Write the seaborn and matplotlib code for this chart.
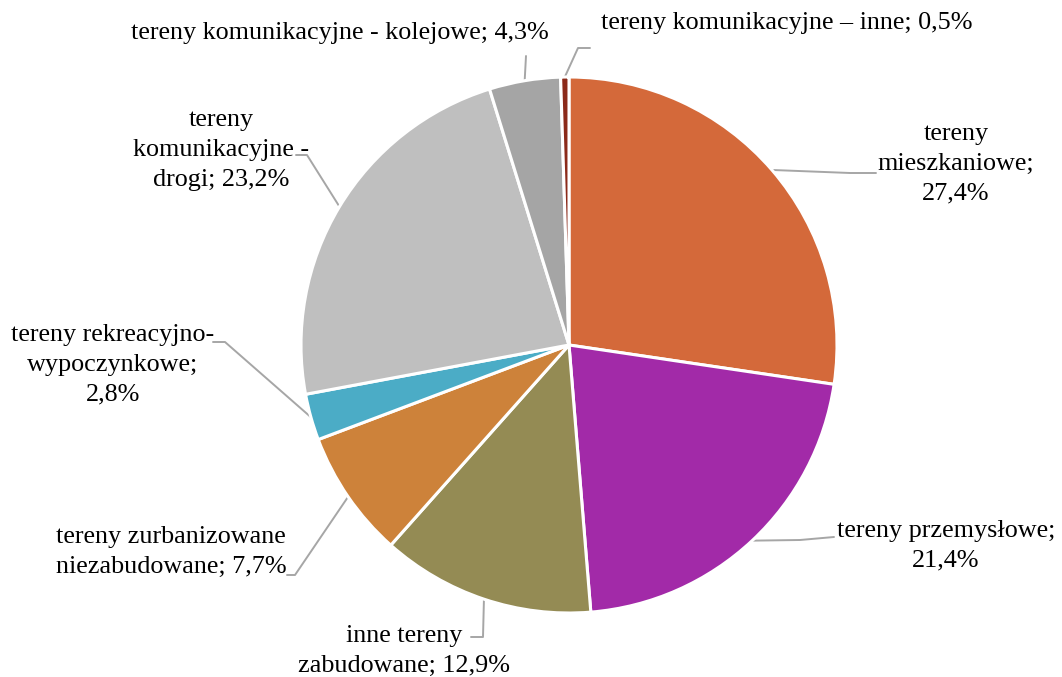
import matplotlib
matplotlib.use("Agg")
import matplotlib.pyplot as plt
import seaborn as sns
import numpy as np

# data (% of area)
categories = ["tereny mieszkaniowe", "tereny przemysłowe", "inne tereny zabudowane",
              "tereny zurbanizowane niezabudowane", "tereny rekreacyjno-wypoczynkowe",
              "tereny komunikacyjne - drogi", "tereny komunikacyjne - kolejowe",
              "tereny komunikacyjne – inne"]
values = [27.4, 21.4, 12.9, 7.7, 2.8, 23.2, 4.3, 0.5]
labels = ["tereny\nmieszkaniowe;\n27,4%",
          "tereny przemysłowe;\n21,4%",
          "inne tereny\nzabudowane; 12,9%",
          "tereny zurbanizowane\nniezabudowane; 7,7%",
          "tereny rekreacyjno-\nwypoczynkowe;\n2,8%",
          "tereny\nkomunikacyjne -\ndrogi; 23,2%",
          "tereny komunikacyjne - kolejowe; 4,3%",
          "tereny komunikacyjne – inne; 0,5%"]
colors = ["#D4693A", "#A22AA8", "#948B54", "#CD823A", "#4BACC6",
          "#BFBFBF", "#A5A5A5", "#8B2A1A"]

sns.set_theme(style="white")
plt.rcParams["font.family"] = ["Liberation Serif", "DejaVu Serif"]

W, H = 1062, 677
cx, cy, R = 569, 345, 268
fig = plt.figure(figsize=(W / 100, H / 100), dpi=100)
ax = fig.add_axes([(cx - R) / W, (H - cy - R) / H, 2 * R / W, 2 * R / H])

wedges, _ = ax.pie(values, colors=colors, startangle=90, counterclock=False,
                   radius=1, wedgeprops=dict(edgecolor="white", linewidth=2.2))
ax.set_xlim(-1, 1)
ax.set_ylim(-1, 1)
ax.set_aspect("equal")
ax.axis("off")


def px(x, y):
    return (x - cx) / R, (cy - y) / R


# label layout in pixels: text centre, elbow point, end point of leader
layout = [
    ((956, 164), (850, 173), (876, 173)),
    ((946, 546), (800, 540), (834, 537)),
    ((404, 651), (483, 637), (471, 637)),
    ((171, 552), (295, 575), (287, 575)),
    ((113, 365), (225, 342), (213, 342)),
    ((221, 150), (307, 155), (296, 155)),
    ((340, 33), (526, 56), (526, 56)),
    ((787, 23), (578, 48), (590, 48)),
]

for w, lab, (tp, ep, endp) in zip(wedges, labels, layout):
    ang = np.deg2rad((w.theta1 + w.theta2) / 2)
    sx, sy = np.cos(ang), np.sin(ang)
    ex, ey = px(*ep)
    fx, fy = px(*endp)
    ax.plot([sx, ex, fx], [sy, ey, fy], color="#A6A6A6", lw=1.4,
            clip_on=False, zorder=0)
    tx, ty = px(*tp)
    ax.text(tx, ty, lab, ha="center", va="center", multialignment="center",
            fontsize=18.8, color="black", linespacing=1.45, clip_on=False)

fig.savefig("out.png", dpi=100, facecolor="white")
